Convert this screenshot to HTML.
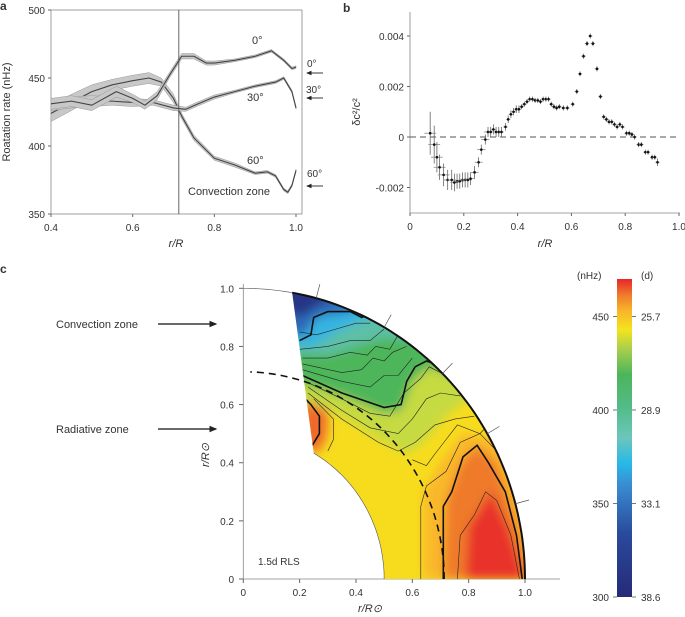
<!DOCTYPE html>
<html><head><meta charset="utf-8">
<style>
html,body{margin:0;padding:0;background:#fff;}
svg{display:block;font-family:"Liberation Sans",sans-serif;}
text{fill:#333;}
</style></head>
<body>
<svg id="fig" width="685" height="617" viewBox="0 0 685 617" xmlns="http://www.w3.org/2000/svg">
<defs>
<filter id="blur" x="-20%" y="-20%" width="140%" height="140%"><feGaussianBlur stdDeviation="5"/></filter>
<linearGradient id="cbar" x1="0" y1="1" x2="0" y2="0">
<stop offset="0" stop-color="#262a78"/>
<stop offset="0.2" stop-color="#2a4a9c"/>
<stop offset="0.35" stop-color="#3a8bd0"/>
<stop offset="0.42" stop-color="#27b9e8"/>
<stop offset="0.5" stop-color="#6cc6bc"/>
<stop offset="0.6" stop-color="#52bb86"/>
<stop offset="0.7" stop-color="#4cb55a"/>
<stop offset="0.78" stop-color="#a9cf4c"/>
<stop offset="0.84" stop-color="#f3e41e"/>
<stop offset="0.9" stop-color="#f8b52a"/>
<stop offset="0.95" stop-color="#ef7a2c"/>
<stop offset="1" stop-color="#e8262a"/>
</linearGradient>
<marker id="arr" markerWidth="6" markerHeight="6" refX="5" refY="3" orient="auto"><path d="M0,0.5 L6,3 L0,5.5 z" fill="#222"/></marker>
</defs>
<g id="pa"></g>
<g id="pb"></g>
<g id="pc"></g>
</svg>
<script>
// ---------- Panel a data ----------
const aR0 = [0.4,0.45,0.5,0.56,0.6,0.63,0.66,0.69,0.72,0.75,0.78,0.8,0.85,0.9,0.94,0.97,0.99,1.0];
const aV0 = [431,433,430,440,435,430,437,452,466,466,461,461,463,466,470,463,457,458];
const aE0 = [4,4,4,4,3,3,3,2,2,2,1.5,1.5,1,1,1,1,1,1];
const aR30 = [0.4,0.45,0.5,0.55,0.6,0.65,0.7,0.73,0.76,0.8,0.85,0.9,0.95,0.97,0.99,1.0];
const aV30 = [430,432,433,433,432,432,428,427,431,436,440,444,447,450,440,428];
const aE30 = [4,4,4,3,3,2,2,1.5,1.5,1.5,1,1,1,1,1,1];
const aR60 = [0.4,0.45,0.5,0.55,0.6,0.64,0.67,0.7,0.72,0.75,0.8,0.85,0.9,0.93,0.95,0.97,0.98,0.99,1.0];
const aV60 = [424,432,440,445,448,450,447,435,422,406,391,386,380,381,378,368,366,371,382];
const aE60 = [6,6,5,4,4,4,3,3,2,2,1.5,1.5,1,1,1,1,1,1,1];
const aXTicks = [0.4,0.6,0.8,1.0];
const aXLabels = ["0.4","0.6","0.8","1.0"];
const aYTicks = [350,400,450,500];

// ---------- Panel b data ----------
const bR = [0.075,0.09,0.1,0.11,0.125,0.14,0.155,0.165,0.175,0.185,0.195,0.205,0.215,0.225,0.24,0.255,0.265,0.28,0.29,0.3,0.31,0.32,0.33,0.34,0.355,0.365,0.375,0.385,0.395,0.405,0.415,0.425,0.435,0.445,0.455,0.465,0.475,0.485,0.495,0.505,0.515,0.525,0.535,0.545,0.555,0.57,0.585,0.605,0.62,0.632,0.645,0.658,0.67,0.68,0.695,0.708,0.72,0.73,0.74,0.75,0.76,0.77,0.78,0.79,0.805,0.815,0.825,0.835,0.85,0.86,0.875,0.885,0.9,0.91,0.92];
const bV = [0.00015,-0.0003,-0.0008,-0.0012,-0.0015,-0.0017,-0.0017,-0.0018,-0.00175,-0.00175,-0.0017,-0.0017,-0.0017,-0.00165,-0.0014,-0.001,-0.0005,-0.0001,0.0002,0.0002,0.0003,0.0002,0.0002,0.0002,0.0004,0.0007,0.0009,0.001,0.0011,0.0011,0.0012,0.0013,0.0014,0.0015,0.0015,0.00145,0.00145,0.0014,0.0015,0.0015,0.0015,0.0013,0.0012,0.00115,0.0012,0.00115,0.00115,0.0013,0.0018,0.0025,0.0032,0.0037,0.004,0.0037,0.0027,0.0016,0.0008,0.0007,0.0006,0.0006,0.0005,0.0004,0.0005,0.0004,0.00015,0.00015,0.0001,0,-0.0003,-0.0003,-0.0006,-0.0006,-0.0008,-0.0008,-0.001];
const bEY = [0.00085,0.00075,0.0006,0.0005,0.00045,0.0004,0.0004,0.00035,0.0003,0.0003,0.0003,0.0003,0.0003,0.00025,0.00025,0.0002,0.0002,0.0002,0.0002,0.0002,0.0002,0.0002,0.0002,0.0002,0.00015,0.00015,0.00015,0.00015,0.00015,0.00015,0.0001,0.0001,0.0001,0.0001,0.0001,0.0001,0.0001,0.0001,0.0001,0.0001,0.0001,0.0001,0.0001,0.0001,0.0001,0.0001,0.0001,0.0001,0.0001,0.0001,0.0001,0.0001,0.0001,0.0001,0.0001,0.0001,0.0001,0.0001,0.0001,0.0001,0.0001,0.0001,0.0001,0.0001,0.0001,0.0001,0.0001,0.0001,0.0001,0.0001,0.0001,0.0001,0.0001,0.0001,0.00015];
const bXTicks = [0,0.2,0.4,0.6,0.8,1.0];
const bXLabels = ["0","0.2","0.4","0.6","0.8","1.0"];
const bYTicks = [-0.002,0,0.002,0.004];
const bYLabels = ["-0.002","0","0.002","0.004"];

// ---------- Panel c data ----------
const cTicks = [0,0.2,0.4,0.6,0.8,1.0];
const cLabels = ["0","0.2","0.4","0.6","0.8","1.0"];
const cbTicks = [300,350,400,450];
const cbDays = ["38.6","33.1","28.9","25.7"];

const NS="http://www.w3.org/2000/svg";
function mk(parent,tag,attrs,txt){const e=document.createElementNS(NS,tag);for(const k in attrs)e.setAttribute(k,attrs[k]);if(txt!==undefined)e.textContent=txt;parent.appendChild(e);return e;}

// ================= Panel a =================
const pa=document.getElementById('pa');
const ax=v=>51+(v-0.4)/0.6*245, ay=v=>214-(v-350)/150*204;
mk(pa,'text',{x:0,y:10,'font-size':12,'font-weight':'bold',fill:'#111'},'a');
mk(pa,'rect',{x:51,y:10,width:251,height:204,fill:'none',stroke:'#888','stroke-width':0.8});
aYTicks.forEach(t=>{
  const l=mk(pa,'line',{x1:48,x2:51,y1:ay(t),y2:ay(t),stroke:'#666'});
  
  const tx=mk(pa,'text',{x:45,y:ay(t)+4,'font-size':10,'text-anchor':'end'},t);
  
});
aXTicks.forEach((t,i)=>{
  const l=mk(pa,'line',{x1:ax(t),x2:ax(t),y1:214,y2:217,stroke:'#666'});
  
  const tx=mk(pa,'text',{x:ax(t),y:231,'font-size':10,'text-anchor':'middle'},aXLabels[i]);
  
});
let t=mk(pa,'text',{x:176,y:247,'font-size':11,'font-style':'italic','text-anchor':'middle'},'r/R');

t=mk(pa,'text',{x:0,y:0,'font-size':11,'text-anchor':'middle',transform:'translate(10,112) rotate(-90)'},'Roatation rate (nHz)');

function series(R,V,E,name){
  let up=R.map((r,i)=>ax(r)+','+ay(V[i]+E[i]));
  let dn=R.map((r,i)=>ax(r)+','+ay(V[i]-E[i])).reverse();
  const b=mk(pa,'polygon',{points:up.concat(dn).join(' '),fill:'#c8c8c8',stroke:'#999','stroke-width':0.5});
  
  const l=mk(pa,'polyline',{points:R.map((r,i)=>ax(r)+','+ay(V[i])).join(' '),fill:'none',stroke:'#444','stroke-width':1.1,'stroke-linejoin':'round'});
  
}
series(aR60,aV60,aE60,'lat-60');
series(aR30,aV30,aE30,'lat-30');
series(aR0,aV0,aE0,'lat-0');
const vl=mk(pa,'line',{x1:ax(0.713),x2:ax(0.713),y1:10,y2:214,stroke:'#555','stroke-width':0.9});

[['0°',252,44],['30°',247,101],['60°',247,164],['Convection zone',188,195]].forEach(([s,x,y])=>{
  const e=mk(pa,'text',{x:x,y:y,'font-size':11,fill:'#222'},s);
});
[['0°',307,67,73],['30°',306,93,98],['60°',307,177,186]].forEach(([s,x,y,ya])=>{
  const e=mk(pa,'text',{x:x,y:y,'font-size':10,fill:'#222'},s);
  const a=mk(pa,'line',{x1:323,x2:307,y1:ya,y2:ya,stroke:'#222','stroke-width':0.9,'marker-end':'url(#arr)'});
  
});

// ================= Panel b =================
const pb=document.getElementById('pb');
const bx=v=>410+v*269, by=v=>137-v/0.002*50.5;
t=mk(pb,'text',{x:343,y:12,'font-size':12,'font-weight':'bold',fill:'#111'},'b');
const fr=mk(pb,'path',{d:'M410,12 V213 H680',fill:'none',stroke:'#888','stroke-width':0.8});

bYTicks.forEach((v,i)=>{
  const l=mk(pb,'line',{x1:407,x2:410,y1:by(v),y2:by(v),stroke:'#666'});
  const tx=mk(pb,'text',{x:404,y:by(v)+4,'font-size':10,'text-anchor':'end'},bYLabels[i]);
});
bXTicks.forEach((v,i)=>{
  const l=mk(pb,'line',{x1:bx(v),x2:bx(v),y1:213,y2:216,stroke:'#666'});
  const tx=mk(pb,'text',{x:bx(v),y:230,'font-size':10,'text-anchor':'middle'},bXLabels[i]);
});
t=mk(pb,'text',{x:545,y:247,'font-size':11,'font-style':'italic','text-anchor':'middle'},'r/R');
t=mk(pb,'text',{x:0,y:0,'font-size':11,'text-anchor':'middle',transform:'translate(360,112) rotate(-90)'},'δc²/c²');
const zl=mk(pb,'line',{x1:410,x2:680,y1:by(0),y2:by(0),stroke:'#555','stroke-width':0.9,'stroke-dasharray':'6,4'});

bR.forEach((r,i)=>{
  const ex=r<0.14?0.022:(r<0.3?0.015:0.008);
  const g=mk(pb,'g',{});
  mk(g,'line',{x1:bx(r-ex),x2:bx(r+ex),y1:by(bV[i]),y2:by(bV[i]),stroke:'#888','stroke-width':0.8});
  mk(g,'line',{x1:bx(r),x2:bx(r),y1:by(bV[i]-bEY[i]),y2:by(bV[i]+bEY[i]),stroke:'#666','stroke-width':0.8});
  mk(g,'circle',{cx:bx(r),cy:by(bV[i]),r:1.3,fill:'#111'});
});

// ================= Panel c =================
const pc=document.getElementById('pc');
const cx=v=>243.3+v*281.7, cy=v=>579-v*290.7;
function P(pts){return pts.map((p,i)=>(i?'L':'M')+cx(p[0]).toFixed(1)+','+cy(p[1]).toFixed(1)).join(' ');}
function arcPts(r,a0,a1,n){const o=[];for(let i=0;i<=n;i++){const a=(a0+(a1-a0)*i/n)*Math.PI/180;o.push([r*Math.cos(a),r*Math.sin(a)]);}return o;}
t=mk(pc,'text',{x:0,y:273,'font-size':12,'font-weight':'bold',fill:'#111'},'c');
const cax=mk(pc,'path',{d:'M243.3,284 V579 H560',fill:'none',stroke:'#888','stroke-width':0.8});
cTicks.forEach((v,i)=>{
  let l=mk(pc,'line',{x1:239,x2:243.3,y1:cy(v),y2:cy(v),stroke:'#666'});
  let tx=mk(pc,'text',{x:234,y:cy(v)+4,'font-size':10,'text-anchor':'end'},cLabels[i]);
  l=mk(pc,'line',{x1:cx(v),x2:cx(v),y1:579,y2:583,stroke:'#666'});
  tx=mk(pc,'text',{x:cx(v),y:596,'font-size':10,'text-anchor':'middle'},cLabels[i]);
});
t=mk(pc,'text',{x:370,y:612,'font-size':11,'font-style':'italic','text-anchor':'middle'},'r/R⊙');
t=mk(pc,'text',{x:0,y:0,'font-size':11,'font-style':'italic','text-anchor':'middle',transform:'translate(209,455) rotate(-90)'},'r/R⊙');
const ra=mk(pc,'path',{d:P(arcPts(1,80,90,12)),fill:'none',stroke:'#666','stroke-width':0.7});
const wedge=P(arcPts(1,0,80,60))+' L'+cx(0.25)+','+cy(0.433)+' '+P(arcPts(0.5,60,0,40)).replace('M','L')+' Z';
mk(pc,'clipPath',{id:'wclip'}).appendChild((()=>{const p=document.createElementNS(NS,'path');p.setAttribute('d',wedge);return p;})());
const field=mk(pc,'g',{'clip-path':'url(#wclip)'});
mk(field,'path',{d:wedge,fill:'#f7dc1e'});
const blobs=mk(field,'g',{filter:'url(#blur)'});
mk(blobs,'path',{d:P([[0.64,0],[0.64,0.3],[0.7,0.4],[0.78,0.5],[0.9,0.48],[1.05,0.3],[1.05,0]])+'Z',fill:'#f9b82a'});
mk(blobs,'path',{d:P([[0.71,0],[0.72,0.27],[0.77,0.4],[0.83,0.46],[0.9,0.4],[0.97,0.2],[1.02,0]])+'Z',fill:'#ef7a2a'});
mk(blobs,'path',{d:P([[0.79,0],[0.8,0.18],[0.88,0.3],[0.94,0.18],[1.0,0]])+'Z',fill:'#e8302c'});
mk(blobs,'ellipse',{cx:cx(0.25),cy:cy(0.54),rx:14,ry:30,fill:'#ef6a2a'});
mk(blobs,'path',{d:P([[0.15,0.64],[0.35,0.56],[0.48,0.48],[0.58,0.43],[0.64,0.47],[0.72,0.56],[0.8,0.62],[1.05,0.62],[0.3,1.1],[0.1,1.1]])+'Z',fill:'#c6da42'});
mk(blobs,'path',{d:P([[0.15,0.69],[0.35,0.63],[0.5,0.57],[0.56,0.58],[0.6,0.68],[0.66,0.73],[0.74,0.7],[1.05,0.72],[0.3,1.1],[0.1,1.1]])+'Z',fill:'#4db65a'});
mk(blobs,'path',{d:P([[0.15,0.78],[0.3,0.77],[0.4,0.8],[0.5,0.83],[0.6,0.82],[0.7,0.9],[0.3,1.1],[0.1,1.1]])+'Z',fill:'#5dc0a6'});
mk(blobs,'path',{d:P([[0.15,0.8],[0.25,0.8],[0.35,0.86],[0.45,0.9],[0.5,0.95],[0.3,1.1],[0.1,1.1]])+'Z',fill:'#34b4e2'});
mk(blobs,'path',{d:P([[0.15,0.84],[0.22,0.84],[0.26,0.9],[0.38,0.92],[0.45,0.95],[0.3,1.1],[0.1,1.1]])+'Z',fill:'#2f6ab8'});
mk(blobs,'path',{d:P([[0.15,0.92],[0.2,0.9],[0.3,0.96],[0.3,1.1],[0.1,1.1]])+'Z',fill:'#273585'});
const thin=[
 [[0.2,0.85],[0.26,0.84],[0.33,0.86],[0.4,0.88],[0.45,0.88]],
 [[0.2,0.79],[0.3,0.8],[0.38,0.82],[0.45,0.82],[0.5,0.86]],
 [[0.21,0.76],[0.3,0.76],[0.38,0.78],[0.44,0.77],[0.47,0.8],[0.52,0.79],[0.55,0.84]],
 [[0.21,0.74],[0.35,0.71],[0.42,0.72],[0.46,0.76],[0.5,0.75],[0.53,0.78],[0.58,0.8]],
 [[0.21,0.72],[0.35,0.68],[0.45,0.66],[0.5,0.7],[0.55,0.7],[0.6,0.76]],
 [[0.22,0.68],[0.35,0.62],[0.45,0.57],[0.52,0.56],[0.57,0.64],[0.63,0.69],[0.66,0.73],[0.72,0.7]],
 [[0.23,0.66],[0.35,0.58],[0.45,0.52],[0.55,0.5],[0.6,0.55],[0.65,0.62],[0.7,0.64],[0.77,0.63]],
 [[0.23,0.64],[0.35,0.55],[0.48,0.47],[0.55,0.44],[0.61,0.47],[0.68,0.53],[0.75,0.55],[0.82,0.56]],
 [[0.25,0.62],[0.32,0.55],[0.32,0.48],[0.3,0.44]],
 [[0.6,0.41],[0.65,0.39],[0.68,0.43],[0.72,0.48],[0.76,0.53],[0.84,0.5],[0.86,0.52]],
 [[0.63,0],[0.63,0.25],[0.65,0.32],[0.72,0.37],[0.77,0.47],[0.84,0.5],[0.9,0.44]],
 [[0.76,0],[0.77,0.15],[0.82,0.22],[0.86,0.3],[0.9,0.27],[0.95,0.15],[0.98,0]]
];
thin.forEach(c=>{const e=mk(field,'path',{d:P(c),fill:'none',stroke:'#222','stroke-width':0.6});});
const thick=[
 [[0.2,0.82],[0.24,0.84],[0.25,0.9],[0.3,0.92],[0.38,0.92],[0.42,0.9],[0.45,0.91]],
 [[0.21,0.7],[0.35,0.64],[0.5,0.59],[0.56,0.6],[0.58,0.68],[0.61,0.73],[0.65,0.75],[0.68,0.74]],
 [[0.71,0],[0.71,0.25],[0.74,0.3],[0.78,0.42],[0.83,0.46],[0.87,0.4],[0.93,0.3],[0.97,0.15],[0.99,0]],
 [[0.245,0.46],[0.27,0.5],[0.27,0.56],[0.24,0.6],[0.22,0.62]]
];
thick.forEach(c=>{const e=mk(field,'path',{d:P(c),fill:'none',stroke:'#111','stroke-width':1.6});});
let e=mk(pc,'path',{d:P(arcPts(1,0,80,60)),fill:'none',stroke:'#111','stroke-width':2});
e=mk(pc,'path',{d:'M'+cx(0.25)+','+cy(0.433)+' '+P(arcPts(0.5,60,0,40)).replace('M','L'),fill:'none',stroke:'#555','stroke-width':0.6});
[15,30,45,60,75].forEach(a=>{const r=a*Math.PI/180;const l=mk(pc,'line',{x1:cx(Math.cos(r)),y1:cy(Math.sin(r)),x2:cx(1.05*Math.cos(r)),y2:cy(1.05*Math.sin(r)),stroke:'#555','stroke-width':0.7});});
e=mk(pc,'path',{d:P(arcPts(0.713,0,88,60)),fill:'none',stroke:'#111','stroke-width':1.6,'stroke-dasharray':'7,5'});
t=mk(pc,'text',{x:258,y:565,'font-size':10,fill:'#333'},'1.5d RLS');
[['Convection zone',328],['Radiative zone',433]].forEach(([s,y])=>{
  const tx=mk(pc,'text',{x:56,y:y,'font-size':11,fill:'#222'},s);
  const a=mk(pc,'line',{x1:158,x2:216,y1:y-4,y2:y-4,stroke:'#111','stroke-width':1.3,'marker-end':'url(#arr)'});
});
const cby=v=>597-(v-300)/50*93.5;
e=mk(pc,'rect',{x:617,y:279,width:15,height:318,fill:'url(#cbar)'});
cbTicks.forEach((v,i)=>{
  let l=mk(pc,'line',{x1:613,x2:617,y1:cby(v),y2:cby(v),stroke:'#777'});
  l=mk(pc,'line',{x1:632,x2:636,y1:cby(v),y2:cby(v),stroke:'#777'});
  let tx=mk(pc,'text',{x:609,y:cby(v)+4,'font-size':10,'text-anchor':'end'},v);
  tx=mk(pc,'text',{x:641,y:cby(v)+4,'font-size':10},cbDays[i]);
});
t=mk(pc,'text',{x:577,y:279,'font-size':10},'(nHz)');
t=mk(pc,'text',{x:641,y:279,'font-size':10},'(d)');
</script>
</body></html>
